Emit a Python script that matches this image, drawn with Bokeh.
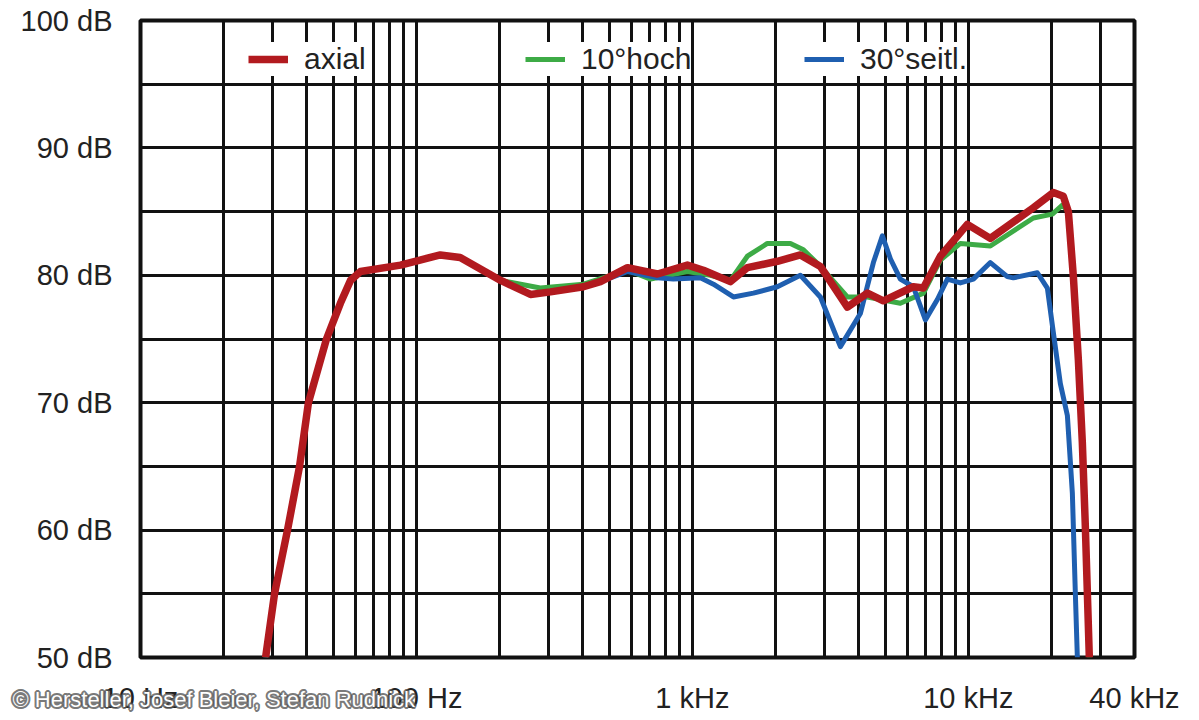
from bokeh.plotting import figure
from bokeh.models import Range1d, FixedTicker, Legend, LegendItem, Label
from bokeh.embed import file_html
from bokeh.resources import INLINE

# ---- data ----
axial_f = [28.4, 30.6, 34.1, 37.7, 40.6, 47.2, 53.0, 57.7, 62.7, 87.5, 103, 122, 144,
           202, 259, 306, 403, 464, 582, 747, 959, 1096, 1373, 1582, 2032, 2462, 2909,
           3644, 4307, 4920, 6318, 6871, 7918, 9917, 12013, 17200, 20324, 22092, 23034,
           24015, 25035, 25880, 26540, 27440]
axial_db = [50, 55, 60, 65, 70, 75, 77.8, 79.6, 80.3, 80.8, 81.2, 81.6, 81.4,
            79.6, 78.5, 78.7, 79.1, 79.5, 80.6, 80.1, 80.8, 80.4, 79.5, 80.6, 81.1, 81.6, 80.7,
            77.5, 78.6, 78.0, 79.1, 79.0, 81.5, 84.0, 82.9, 85.3, 86.5, 86.2, 85.0,
            79.9, 73.4, 66.9, 60.3, 50]

hoch_f = [28.4, 30.6, 34.1, 37.7, 40.6, 47.2, 53.0, 57.7, 62.7, 87.5, 103, 122, 144,
          202, 281, 403, 582, 705, 959, 1162, 1373, 1582, 1869, 2265, 2525, 2909,
          3644, 4307, 5670, 6871, 7918, 9355, 12013, 17200, 20154, 21908, 23034,
          24015, 25035, 25880, 26540, 27440]
hoch_db = [50, 55, 60, 65, 70, 75, 77.8, 79.6, 80.3, 80.8, 81.2, 81.6, 81.4,
           79.6, 79.0, 79.3, 80.4, 79.7, 80.3, 80.0, 79.6, 81.5, 82.5, 82.5, 82.0, 80.7,
           78.3, 78.3, 77.8, 78.6, 81.2, 82.5, 82.3, 84.5, 84.8, 85.5, 85.0,
           79.9, 73.4, 66.9, 60.3, 50]

seitl_f = [28.4, 30.6, 34.1, 37.7, 40.6, 47.2, 53.0, 57.7, 62.7, 87.5, 103, 122, 144,
           202, 259, 306, 403, 464, 582, 747, 853, 1069, 1192, 1408, 1663, 2032, 2462,
           2909, 3438, 4061, 4527, 4880, 5217, 5670, 6318, 6986, 7722, 8393, 9355,
           10425, 12013, 13845, 14555, 17783, 19330, 20324, 21544, 22846, 23816, 24420, 24830]
seitl_db = [50, 55, 60, 65, 70, 75, 77.8, 79.6, 80.3, 80.8, 81.2, 81.6, 81.4,
            79.6, 78.5, 78.7, 79.1, 79.5, 80.3, 79.8, 79.7, 79.8, 79.3, 78.3, 78.6, 79.1, 80.0,
            78.3, 74.4, 77.0, 81.0, 83.1, 81.3, 79.7, 79.1, 76.5, 78.1, 79.7, 79.4,
            79.7, 81.0, 79.9, 79.8, 80.2, 79.0, 75.5, 71.5, 69.0, 62.9, 55, 50]

series_labels = ["axial", "10°hoch", "30°seitl."]
x_tick_values = [10, 100, 1000, 10000, 40000]
x_tick_labels = ["10 Hz", "100 Hz", "1 kHz", "10 kHz", "40 kHz"]
y_tick_values = [50, 60, 70, 80, 90, 100]
y_tick_labels = ["50 dB", "60 dB", "70 dB", "80 dB", "90 dB", "100 dB"]
x_grid_values = [m * d for d in (10, 100, 1000) for m in range(1, 10)] + [10000, 20000, 30000]
y_grid_values = list(range(50, 101, 5))
credit = "© Hersteller, Josef Bleier, Stefan Rudnick"

FONT = "Liberation Sans"
RED, GREEN, BLUE = "#b21a1f", "#3dab46", "#1f5fb0"

p = figure(width=1195, height=718, x_axis_type="log",
           x_range=Range1d(10, 40000), y_range=Range1d(50, 100),
           output_backend="svg", toolbar_location=None,
           min_border_left=140, min_border_top=20, min_border_right=61, min_border_bottom=61)
p.background_fill_color = "white"
p.border_fill_color = "white"
p.outline_line_color = "#111111"
p.outline_line_width = 4

# grid
p.xgrid.ticker = FixedTicker(ticks=x_grid_values)
p.ygrid.ticker = FixedTicker(ticks=y_grid_values)
for gr in (p.xgrid, p.ygrid):
    gr.grid_line_color = "#111111"
    gr.grid_line_width = 3
    gr.grid_line_alpha = 1

# axes
xax = p.xaxis[0]
xax.ticker = FixedTicker(ticks=x_tick_values)
xax.major_label_overrides = {v: l for v, l in zip(x_tick_values, x_tick_labels)}
p.yaxis.ticker = FixedTicker(ticks=y_tick_values)
p.yaxis.major_label_overrides = {v: l for v, l in zip(y_tick_values, y_tick_labels)}
for ax in (p.xaxis, p.yaxis):
    ax.axis_line_color = None
    ax.major_tick_line_color = None
    ax.minor_tick_line_color = None
    ax.major_label_text_font = FONT
    ax.major_label_text_font_size = "29px"
    ax.major_label_text_color = "#222222"
xax.major_label_standoff = -32
p.yaxis.major_label_standoff = 22

g = p.line(hoch_f, hoch_db, line_color=GREEN, line_width=5, line_join="round")
b = p.line(seitl_f, seitl_db, line_color=BLUE, line_width=5, line_join="round")
r = p.line(axial_f, axial_db, line_color=RED, line_width=7.5, line_join="round")

for rend, lab, xloc in ((r, series_labels[0], 108), (g, series_labels[1], 385), (b, series_labels[2], 664)):
    lg = Legend(items=[LegendItem(label=lab, renderers=[rend])], location=(xloc, 581),
                background_fill_color="white", background_fill_alpha=1.0,
                border_line_color=None, glyph_width=40, glyph_height=24,
                label_text_font=FONT, label_text_font_size="30px", label_text_color="#222222",
                label_standoff=16, padding=6, margin=0, spacing=0)
    p.add_layout(lg, "center")

# credit: white text on a dark halo, in panels just below the frame, over the x labels
halo = Label(x=-128, y=-17, x_units="screen", y_units="screen", text=credit,
             text_font=FONT, text_font_size="22px", text_color="#3a3a3a", text_alpha=0.8,
             text_outline_color="#555555", text_baseline="middle")
front = Label(x=-128, y=8, x_units="screen", y_units="screen", text=credit,
              text_font=FONT, text_font_size="22px", text_color="white",
              text_baseline="middle")
p.below = [halo, front, xax]

open("out.html", "w").write(file_html(p, INLINE))
